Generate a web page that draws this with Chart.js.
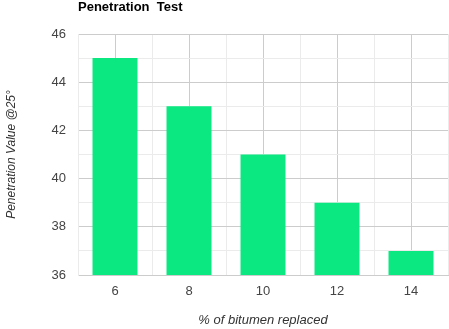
<!DOCTYPE html>
<html>
<head>
<meta charset="utf-8">
<script src="https://cdn.jsdelivr.net/npm/chart.js@4"></script>
<style>
    body { margin: 0; background: #fff; }
    #wrap { width: 449px; height: 329px; position: relative; }
</style>
</head>
<body>
<div id="wrap"><canvas id="penChart"></canvas></div>
<script>
var categories = ["6", "8", "10", "12", "14"];
var penetration = [45, 43, 41, 39, 37];
var yMin = 36;
var yMax = 46;

var chartTitle = "Penetration  Test";
var xTitle = "% of bitumen replaced";
var yTitle = "Penetration Value @25\u00b0";

var fontFamily = "'Liberation Sans', Arial, sans-serif";

// title drawn at the left edge of the plot area
var titlePlugin = {
    id: "leftTitle",
    afterDraw: function (chart) {
        var c = chart.ctx;
        c.save();
        c.font = "bold 13px " + fontFamily;
        c.fillStyle = "#000";
        c.textAlign = "left";
        c.textBaseline = "middle";
        c.fillText(chartTitle, chart.chartArea.left, 7);
        c.restore();
    }
};

var ctx = document.getElementById("penChart").getContext("2d");
var penChart = new Chart(ctx, {
    type: "bar",
    data: {
        labels: categories,
        datasets: [
            {
                label: "Penetration",
                data: penetration,
                backgroundColor: "#0be881",
                barPercentage: 0.76,
                categoryPercentage: 0.8,
                xAxisID: "x",
            },
        ],
    },
    options: {
        responsive: true,
        maintainAspectRatio: false,
        animation: false,
        layout: {
            padding: { top: 34, right: 1, left: 0, bottom: 0 },
        },
        scales: {
            x: {
                offset: true,
                grid: {
                    offset: true,
                    color: "#ebebeb",
                    drawTicks: false,
                },
                border: { color: "#ccc" },
                ticks: {
                    color: "#444",
                    padding: 9,
                    font: { family: fontFamily, size: 13 },
                },
                title: {
                    display: true,
                    text: xTitle,
                    color: "#333",
                    padding: { top: 4, bottom: 1 },
                    font: { family: fontFamily, size: 13, style: "italic" },
                },
                afterFit: function (scale) {
                    scale.height = 54;
                },
            },
            x2: {
                type: "category",
                labels: categories,
                position: "bottom",
                offset: true,
                grid: {
                    offset: false,
                    color: "#cccccc",
                    drawTicks: false,
                },
                border: { display: false },
                ticks: { display: false },
                afterFit: function (scale) {
                    scale.height = 0;
                },
            },
            y: {
                min: yMin,
                max: yMax,
                grid: {
                    drawTicks: false,
                    color: function (c) {
                        return c.tick && c.tick.value % 2 === 0 ? "#cccccc" : "#ebebeb";
                    },
                },
                border: { color: "#ebebeb" },
                ticks: {
                    stepSize: 1,
                    color: "#444",
                    padding: 12,
                    font: { family: fontFamily, size: 13 },
                    callback: function (v) {
                        return v % 2 === 0 ? v : "";
                    },
                },
                title: {
                    display: true,
                    text: yTitle,
                    color: "#333",
                    font: { family: fontFamily, size: 12, style: "italic" },
                },
                afterFit: function (scale) {
                    scale.width = 78;
                },
            },
        },
        plugins: {
            legend: { display: false },
            tooltip: { enabled: false },
        },
    },
    plugins: [titlePlugin],
});
</script>
</body>
</html>
